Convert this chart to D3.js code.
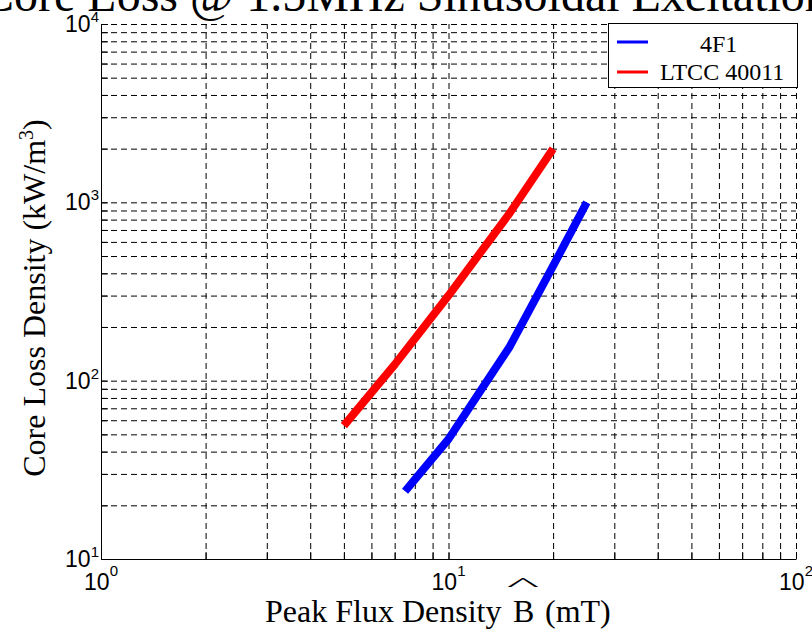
<!DOCTYPE html>
<html>
<head>
<meta charset="utf-8">
<script src="https://cdn.jsdelivr.net/npm/d3@7"></script>
<style>
	body { margin: 0; background: #fff; }
	svg { display: block; }
</style>
</head>
<body>
<div id="chart"></div>
<script>
	// values (B in mT, loss in kW/m^3)
	var seriesNames = ['4F1', 'LTCC 40011'];
	var seriesColors = ['#0000ff', '#ff0000'];
	var flux4F1 = [7.5, 10, 15, 20, 25];
	var loss4F1 = [24, 47, 155, 440, 1000];
	var fluxLtcc = [5, 7, 10, 15, 20];
	var lossLtcc = [56, 123, 300, 870, 2000];
	var xDecades = [1, 10, 100];
	var yDecades = [10, 100, 1000, 10000];

	var serif = '"Liberation Serif", "Times New Roman", serif';
	var sans = '"Liberation Sans", Arial, sans-serif';

	var margin = {top: 24, right: 16, bottom: 73, left: 101};
	var width = 812 - margin.left - margin.right,
		height = 632 - margin.top - margin.bottom;

	var root = d3.select('#chart')
		.append('svg')
		.attr('width', 812)
		.attr('height', 632);

	var svg = root.append('g')
		.attr('transform', 'translate(' + margin.left + ',' + margin.top + ')');

	var x = d3.scaleLog().domain([1, 100]).range([0, width]);
	var y = d3.scaleLog().domain([10, 10000]).range([height, 0]);

	// 1..9 times every decade
	function logTicks(decades) {
		var t = [];
		decades.forEach(function(d, i) {
			if (i == decades.length - 1) { t.push(d); return; }
			for (let k = 1; k < 10; k++) t.push(d * k);
		});
		return t;
	}
	var xTicks = logTicks(xDecades);
	var yTicks = logTicks(yDecades);

	// dashed grid
	var gx = svg.append('g')
		.attr('transform', 'translate(0,' + height + ')')
		.call(d3.axisBottom(x).tickValues(xTicks.slice(1)).tickSize(-height).tickFormat(''));
	var gy = svg.append('g')
		.call(d3.axisLeft(y).tickValues(yTicks.slice(1)).tickSize(-width).tickFormat(''));
	[gx, gy].forEach(function(g) {
		g.select('.domain').remove();
		g.selectAll('line')
			.attr('stroke', '#000')
			.attr('stroke-width', 1)
			.attr('stroke-dasharray', '6,4');
	});

	// axes with inward ticks
	var xAxis = svg.append('g')
		.attr('transform', 'translate(0,' + height + ')')
		.call(d3.axisBottom(x).tickValues(xTicks).tickSize(-7).tickSizeOuter(0).tickFormat(''));
	var yAxis = svg.append('g')
		.call(d3.axisLeft(y).tickValues(yTicks).tickSize(-7).tickSizeOuter(0).tickFormat(''));
	[xAxis, yAxis].forEach(function(g) {
		g.selectAll('path, line').attr('stroke', '#000');
	});

	// power-of-ten labels
	svg.selectAll('.xlab')
		.data(xDecades)
		.enter()
		.append('text')
		.attr('class', 'xlab')
		.attr('x', function(d) { return x(d); })
		.attr('y', height + 31)
		.attr('text-anchor', 'middle')
		.style('font-family', sans)
		.style('font-size', '23px')
		.each(function(d) {
			var t = d3.select(this);
			t.append('tspan').text('10');
			t.append('tspan').attr('dy', -14).style('font-size', '15px').text(Math.round(Math.log10(d)));
		});

	svg.selectAll('.ylab')
		.data(yDecades)
		.enter()
		.append('text')
		.attr('class', 'ylab')
		.attr('x', -2)
		.attr('y', function(d) { return y(d) + 8; })
		.attr('text-anchor', 'end')
		.style('font-family', sans)
		.style('font-size', '23px')
		.each(function(d) {
			var t = d3.select(this);
			t.append('tspan').text('10');
			t.append('tspan').attr('dy', -10).style('font-size', '15px').text(Math.round(Math.log10(d)));
		});

	// curves
	var line = d3.line()
		.x(function(d) { return x(d[0]); })
		.y(function(d) { return y(d[1]); });

	var curves = [d3.zip(flux4F1, loss4F1), d3.zip(fluxLtcc, lossLtcc)];
	svg.selectAll('.curve')
		.data(curves)
		.enter()
		.append('path')
		.attr('class', 'curve')
		.attr('d', line)
		.attr('fill', 'none')
		.attr('stroke', function(d, i) { return seriesColors[i]; })
		.attr('stroke-width', 8)
		.attr('stroke-linejoin', 'round');

	// legend
	var legend = root.append('g').attr('transform', 'translate(608,23)');
	legend.append('rect')
		.attr('x', 0.5).attr('y', 0.5)
		.attr('width', 189).attr('height', 64)
		.attr('fill', '#fff')
		.attr('stroke', '#000');
	var legendTextX = [92, 52];
	seriesNames.forEach(function(name, i) {
		legend.append('line')
			.attr('x1', 9).attr('x2', 40)
			.attr('y1', 19 + i * 30).attr('y2', 19 + i * 30)
			.attr('stroke', seriesColors[i])
			.attr('stroke-width', 3);
		legend.append('text')
			.attr('x', legendTextX[i])
			.attr('y', 29 + i * 28)
			.style('font-family', serif)
			.style('font-size', '24px')
			.text(name);
	});

	// title (cut off by the top edge, as in the original figure)
	root.append('text')
		.attr('x', -18)
		.attr('y', 11)
		.style('font-family', serif)
		.style('font-size', '48px')
		.text('Core Loss @ 1.5MHz Sinusoidal Excitation');

	var ylab = root.append('text')
		.attr('transform', 'translate(45,298) rotate(-90)')
		.attr('text-anchor', 'middle')
		.style('font-family', serif)
		.style('font-size', '32px');
	ylab.append('tspan').text('Core Loss Density (kW/m');
	ylab.append('tspan').attr('dy', -12).style('font-size', '20px').text('3');
	ylab.append('tspan').attr('dy', 12).text(')');

	// x label, with a TeX-like hat over the B
	var xlab = root.append('text')
		.attr('y', 622)
		.style('font-family', serif)
		.style('font-size', '32px');
	xlab.append('tspan').attr('x', 265).text('Peak Flux Density');
	xlab.append('tspan').attr('x', 513).text('B');
	xlab.append('tspan').attr('x', 545).text('(mT)');

	root.append('text')
		.attr('transform', 'translate(523,591) scale(2.3,0.6)')
		.attr('text-anchor', 'middle')
		.style('font-family', serif)
		.style('font-size', '30px')
		.text('^');
</script>
</body>
</html>
